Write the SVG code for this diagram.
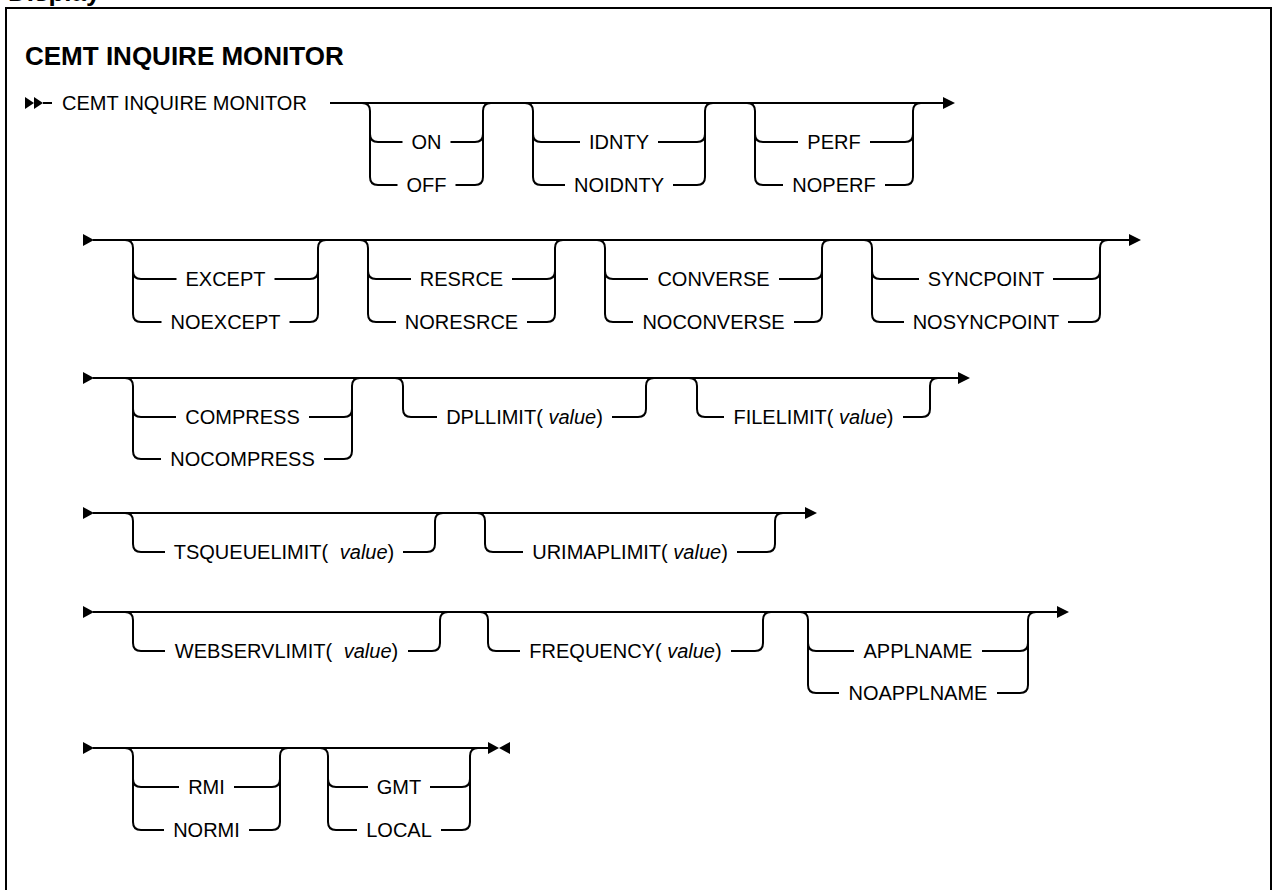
<svg xmlns="http://www.w3.org/2000/svg" width="1273" height="890" viewBox="0 0 1273 890">
<style>
.ln{fill:none;stroke:#000;stroke-width:2}
.ah{fill:#000}
.t{font-family:"Liberation Sans",Arial,sans-serif;font-size:20px;fill:#000;text-anchor:middle}
.s{font-family:"Liberation Sans",Arial,sans-serif;font-size:20px;fill:#000}
.h{font-family:"Liberation Sans",Arial,sans-serif;font-size:26px;font-weight:bold;fill:#000}
.i{font-style:italic}
</style>
<rect width="1273" height="890" fill="#fff"/>
<text class="h" x="8" y="1">Display</text>
<rect x="6" y="8" width="1265" height="900" fill="none" stroke="#000" stroke-width="2"/>
<text class="h" x="25" y="65">CEMT INQUIRE MONITOR</text>

<g id="connectors">
<path class="ln" d="M43,103H52M330,103H943"/>
<polygon class="ah" points="25,97 34,103 25,109"/>
<polygon class="ah" points="34,97 43,103 34,109"/>
<polygon class="ah" points="943,97 955,103 943,109"/>
<path class="ln" d="M93,240H1129"/>
<polygon class="ah" points="83,234 94,240 83,246"/>
<polygon class="ah" points="1129,234 1141,240 1129,246"/>
<path class="ln" d="M93,378H958"/>
<polygon class="ah" points="83,372 94,378 83,384"/>
<polygon class="ah" points="958,372 970,378 958,384"/>
<path class="ln" d="M93,513H805"/>
<polygon class="ah" points="83,507 94,513 83,519"/>
<polygon class="ah" points="805,507 817,513 805,519"/>
<path class="ln" d="M93,612H1057"/>
<polygon class="ah" points="83,606 94,612 83,618"/>
<polygon class="ah" points="1057,606 1069,612 1057,618"/>
<path class="ln" d="M93,748H488"/>
<polygon class="ah" points="83,742 94,748 83,754"/>
<polygon class="ah" points="488,742 499,748 488,754"/>
<polygon class="ah" points="510,742 499,748 510,754"/>
</g>

<g id="start">
<text class="s" x="62" y="110">CEMT INQUIRE MONITOR</text>
</g>

<g id="grp-onoff">
<path class="ln" d="M362,103Q370,103 370,111V177Q370,185 378,185M370,134Q370,142 378,142M475,185Q483,185 483,177V111Q483,103 491,103M475,142Q483,142 483,134M378,142H402.5M450.5,142H475M378,185H397.5M455.5,185H475"/>
<text class="t" x="426.5" y="149">ON</text>
<text class="t" x="426.5" y="192">OFF</text>
</g>
<g id="grp-idnty">
<path class="ln" d="M525,103Q533,103 533,111V177Q533,185 541,185M533,134Q533,142 541,142M697,185Q705,185 705,177V111Q705,103 713,103M697,142Q705,142 705,134M541,142H580M658,142H697M541,185H565M673,185H697"/>
<text class="t" x="619" y="149">IDNTY</text>
<text class="t" x="619" y="192">NOIDNTY</text>
</g>
<g id="grp-perf">
<path class="ln" d="M747,103Q755,103 755,111V177Q755,185 763,185M755,134Q755,142 763,142M905,185Q913,185 913,177V111Q913,103 921,103M905,142Q913,142 913,134M763,142H798M870,142H905M763,185H783M885,185H905"/>
<text class="t" x="834" y="149">PERF</text>
<text class="t" x="834" y="192">NOPERF</text>
</g>

<g id="grp-except">
<path class="ln" d="M125,240Q133,240 133,248V314Q133,322 141,322M133,271Q133,279 141,279M310,322Q318,322 318,314V248Q318,240 326,240M310,279Q318,279 318,271M141,279H176.5M274.5,279H310M141,322H161.5M289.5,322H310"/>
<text class="t" x="225.5" y="286">EXCEPT</text>
<text class="t" x="225.5" y="329">NOEXCEPT</text>
</g>
<g id="grp-resrce">
<path class="ln" d="M360,240Q368,240 368,248V314Q368,322 376,322M368,271Q368,279 376,279M547,322Q555,322 555,314V248Q555,240 563,240M547,279Q555,279 555,271M376,279H411M512,279H547M376,322H396M527,322H547"/>
<text class="t" x="461.5" y="286">RESRCE</text>
<text class="t" x="461.5" y="329">NORESRCE</text>
</g>
<g id="grp-converse">
<path class="ln" d="M597,240Q605,240 605,248V314Q605,322 613,322M605,271Q605,279 613,279M814,322Q822,322 822,314V248Q822,240 830,240M814,279Q822,279 822,271M613,279H648M779,279H814M613,322H633M794,322H814"/>
<text class="t" x="713.5" y="286">CONVERSE</text>
<text class="t" x="713.5" y="329">NOCONVERSE</text>
</g>
<g id="grp-syncpoint">
<path class="ln" d="M864,240Q872,240 872,248V314Q872,322 880,322M872,271Q872,279 880,279M1092,322Q1100,322 1100,314V248Q1100,240 1108,240M1092,279Q1100,279 1100,271M880,279H919M1053,279H1092M880,322H904M1068,322H1092"/>
<text class="t" x="986" y="286">SYNCPOINT</text>
<text class="t" x="986" y="329">NOSYNCPOINT</text>
</g>

<g id="grp-compress">
<path class="ln" d="M125,378Q133,378 133,386V451Q133,459 141,459M133,409Q133,417 141,417M344,459Q352,459 352,451V386Q352,378 360,378M344,417Q352,417 352,409M141,417H176M309,417H344M141,459H161M324,459H344"/>
<text class="t" x="242.5" y="424">COMPRESS</text>
<text class="t" x="242.5" y="466">NOCOMPRESS</text>
</g>
<g id="grp-dpllimit">
<path class="ln" d="M395,378Q403,378 403,386V409Q403,417 411,417H437M612,417H638Q646,417 646,409V386Q646,378 654,378"/>
<text class="t" x="524.5" y="424">DPLLIMIT( <tspan class="i">value</tspan>)</text>
</g>
<g id="grp-filelimit">
<path class="ln" d="M689,378Q697,378 697,386V409Q697,417 705,417H724M903,417H922Q930,417 930,409V386Q930,378 938,378"/>
<text class="t" x="813.5" y="424">FILELIMIT( <tspan class="i">value</tspan>)</text>
</g>

<g id="grp-tsqueuelimit">
<path class="ln" d="M125,513Q133,513 133,521V544Q133,552 141,552H165M403,552H427Q435,552 435,544V521Q435,513 443,513"/>
<text class="t" x="284" y="559">TSQUEUELIMIT( <tspan class="i" dx="6">value</tspan>)</text>
</g>
<g id="grp-urimaplimit">
<path class="ln" d="M477,513Q485,513 485,521V544Q485,552 493,552H523M737,552H767Q775,552 775,544V521Q775,513 783,513"/>
<text class="t" x="630" y="559">URIMAPLIMIT( <tspan class="i">value</tspan>)</text>
</g>

<g id="grp-webservlimit">
<path class="ln" d="M125,612Q133,612 133,620V643Q133,651 141,651H165M408,651H432Q440,651 440,643V620Q440,612 448,612"/>
<text class="t" x="286.5" y="658">WEBSERVLIMIT( <tspan class="i" dx="6">value</tspan>)</text>
</g>
<g id="grp-frequency">
<path class="ln" d="M480,612Q488,612 488,620V643Q488,651 496,651H520M731,651H755Q763,651 763,643V620Q763,612 771,612"/>
<text class="t" x="625.5" y="658">FREQUENCY( <tspan class="i">value</tspan>)</text>
</g>
<g id="grp-applname">
<path class="ln" d="M800,612Q808,612 808,620V685Q808,693 816,693M808,643Q808,651 816,651M1020,693Q1028,693 1028,685V620Q1028,612 1036,612M1020,651Q1028,651 1028,643M816,651H854M982,651H1020M816,693H839M997,693H1020"/>
<text class="t" x="918" y="658">APPLNAME</text>
<text class="t" x="918" y="700">NOAPPLNAME</text>
</g>

<g id="grp-rmi">
<path class="ln" d="M125,748Q133,748 133,756V822Q133,830 141,830M133,779Q133,787 141,787M272,830Q280,830 280,822V756Q280,748 288,748M272,787Q280,787 280,779M141,787H179M234,787H272M141,830H164M249,830H272"/>
<text class="t" x="206.5" y="794">RMI</text>
<text class="t" x="206.5" y="837">NORMI</text>
</g>
<g id="grp-gmt">
<path class="ln" d="M320,748Q328,748 328,756V822Q328,830 336,830M328,779Q328,787 336,787M462,830Q470,830 470,822V756Q470,748 478,748M462,787Q470,787 470,779M336,787H368M430,787H462M336,830H357M441,830H462"/>
<text class="t" x="399" y="794">GMT</text>
<text class="t" x="399" y="837">LOCAL</text>
</g>
</svg>
